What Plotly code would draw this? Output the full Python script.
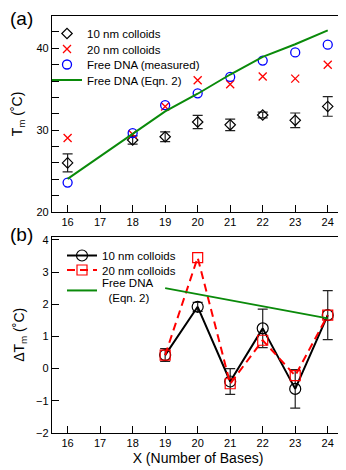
import plotly.graph_objects as go

# panel (a): melting temperature vs number of bases
bases = [16, 18, 19, 20, 21, 22, 23, 24]
tm_10nm = [26.0, 28.8, 29.2, 31.0, 30.65, 31.85, 31.2, 32.9]
tm_10nm_err = [1.1, 0.5, 0.6, 0.8, 0.7, 0.35, 0.9, 1.2]
tm_20nm = [29.05, 29.5, 32.9, 36.1, 35.6, 36.55, 36.3, 38.0]
tm_free_meas = [23.6, 29.65, 33.05, 34.5, 36.5, 38.5, 39.5, 40.45]
tm_free_eqn = [24.05, 29.6, 32.3, 34.45, 36.8, 38.95, 40.5, 42.2]

# panel (b): shift in melting temperature
bases_b = [19, 20, 21, 22, 23, 24]
dtm_10nm = [0.42, 1.92, -0.4, 1.25, -0.63, 1.66]
dtm_10nm_err = [0.2, 0.14, 0.4, 0.6, 0.6, 0.76]
dtm_20nm = [0.42, 3.45, -0.47, 0.88, -0.22, 1.66]
dtm_free_eqn = [2.5, 2.31, 2.12, 1.94, 1.75, 1.56]

x_ticks = [16, 17, 18, 19, 20, 21, 22, 23, 24]
ya_ticks = [20, 30, 40]
yb_ticks = [-2, -1, 0, 1, 2, 3, 4]

FONT = "Liberation Sans, Arial, sans-serif"
# page has an 8px body margin, so the figure is 8px smaller than the window
OFF = 8
W, H = 346 - OFF, 470 - OFF


def px(x):
    return (x - OFF) / W


def py(y):
    return 1 - (y - OFF) / H


fig = go.Figure()

fig.add_trace(go.Scatter(
    x=bases, y=tm_10nm, mode="markers", name="10 nm colloids",
    marker=dict(symbol="diamond-open", size=8, color="black", line=dict(width=1.2)),
    error_y=dict(type="data", array=tm_10nm_err, color="#222222", thickness=1.2, width=5),
    xaxis="x", yaxis="y", legend="legend2",
))
fig.add_trace(go.Scatter(
    x=bases, y=tm_20nm, mode="markers", name="20 nm colloids",
    marker=dict(symbol="x-thin-open", size=8, color="red", line=dict(width=1.3, color="red")),
    xaxis="x", yaxis="y", legend="legend3",
))
fig.add_trace(go.Scatter(
    x=bases, y=tm_free_meas, mode="markers", name="Free DNA (measured)",
    marker=dict(symbol="circle-open", size=9, color="blue", line=dict(width=1.3)),
    xaxis="x", yaxis="y", legend="legend4",
))
fig.add_trace(go.Scatter(
    x=bases, y=tm_free_eqn, mode="lines", name="Free DNA (Eqn. 2)",
    line=dict(color="#0a8a0a", width=2),
    xaxis="x", yaxis="y", legend="legend5",
))

fig.add_trace(go.Scatter(
    x=bases_b, y=dtm_10nm, mode="lines+markers", name="10 nm colloids",
    line=dict(color="black", width=2),
    marker=dict(symbol="circle-open", size=11, color="black", line=dict(width=1.2)),
    error_y=dict(type="data", array=dtm_10nm_err, color="#222222", thickness=1.2, width=5),
    xaxis="x2", yaxis="y2", legend="legend6",
))
fig.add_trace(go.Scatter(
    x=bases_b, y=dtm_20nm, mode="lines+markers", name="20 nm colloids",
    line=dict(color="red", width=2, dash="8px,5px"),
    marker=dict(symbol="square-open", size=10, color="red", line=dict(width=1.2)),
    xaxis="x2", yaxis="y2", legend="legend7",
))
fig.add_trace(go.Scatter(
    x=bases_b, y=dtm_free_eqn, mode="lines", name="Free DNA<br>\u00a0\u00a0(Eqn. 2)",
    line=dict(color="#0a8a0a", width=2),
    xaxis="x2", yaxis="y2", legend="legend8",
))

axis_common = dict(
    showline=True, linecolor="black", linewidth=1.3, mirror=True,
    ticks="inside", ticklen=7, tickwidth=1.2, tickcolor="black",
    showgrid=False, zeroline=False, automargin=False,
    tickfont=dict(family=FONT, size=11, color="black"),
)


def legend_at(x, y):
    return dict(x=px(x), y=py(y), xanchor="left", yanchor="middle",
                bgcolor="rgba(0,0,0,0)", font=dict(family=FONT, size=11.5),
                itemwidth=30)


fig.update_layout(
    template="none",
    width=W, height=H,
    margin=dict(l=0, r=0, t=0, b=0),
    paper_bgcolor="white", plot_bgcolor="white",
    font=dict(family=FONT, color="black"),
    xaxis=dict(axis_common, domain=[px(52), px(344)], range=[15.52, 24.5],
               tickvals=x_ticks, anchor="y"),
    yaxis=dict(axis_common, domain=[py(212), py(16)], range=[20, 43.95],
               tickvals=ya_ticks, anchor="x",
               minor=dict(dtick=2, tick0=20, ticks="inside", ticklen=7, tickwidth=1.2,
                          tickcolor="black", showgrid=False),
               title=dict(text="T<sub>m</sub> (˚C)", font=dict(family=FONT, size=14), standoff=10)),
    xaxis2=dict(axis_common, domain=[px(52), px(344)], range=[15.52, 24.5],
                tickvals=x_ticks, anchor="y2",
                title=dict(text="X (Number of Bases)", font=dict(family=FONT, size=14), standoff=4)),
    yaxis2=dict(axis_common, domain=[py(433), py(236.6)], range=[-2, 4.1],
                tickvals=yb_ticks, anchor="x2",
                title=dict(text="ΔT<sub>m</sub> (˚C)", font=dict(family=FONT, size=14), standoff=8)),
    legend2=legend_at(47, 33.5),
    legend3=legend_at(47, 49),
    legend4=legend_at(47, 64.5),
    legend5=legend_at(47, 80),
    legend6=legend_at(62, 255.5),
    legend7=legend_at(62, 270),
    legend8=legend_at(62, 290.5),
    annotations=[
        dict(text="(a)", x=px(8), y=py(18), xref="paper", yref="paper",
             xanchor="left", yanchor="middle", showarrow=False,
             font=dict(family=FONT, size=19)),
        dict(text="(b)", x=px(8), y=py(234), xref="paper", yref="paper",
             xanchor="left", yanchor="middle", showarrow=False,
             font=dict(family=FONT, size=19)),
    ],
)

fig.write_html("out.html")
